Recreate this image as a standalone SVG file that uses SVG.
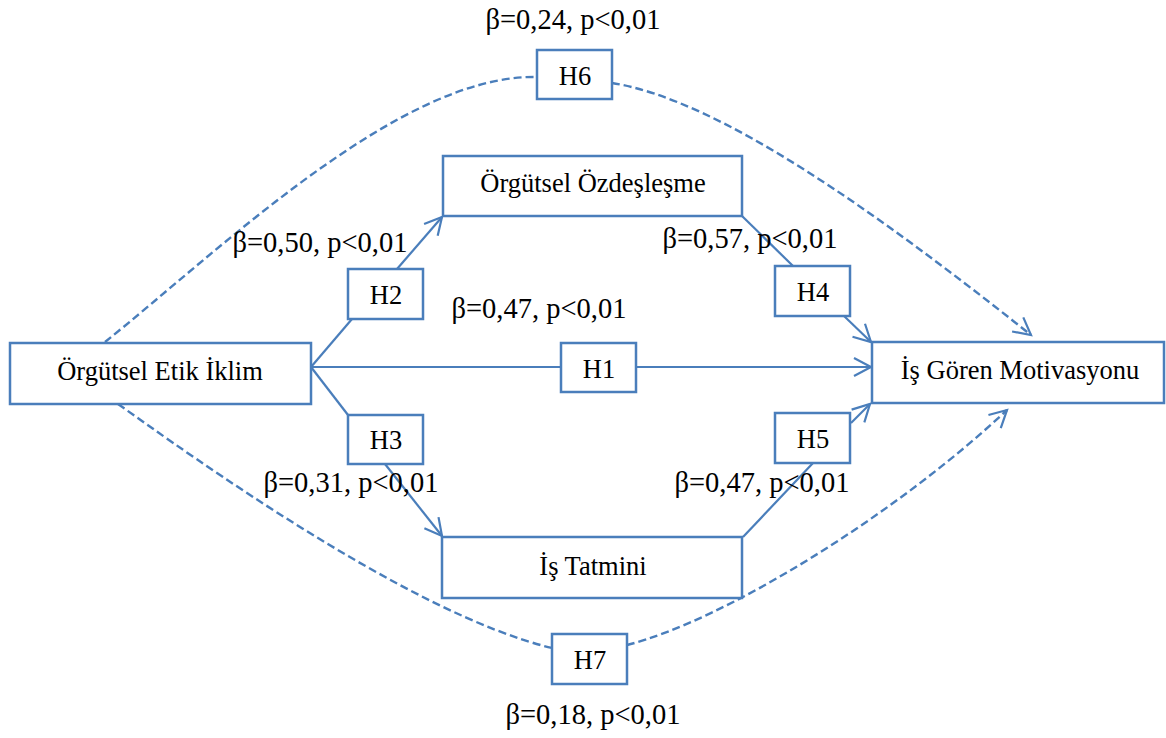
<svg xmlns="http://www.w3.org/2000/svg" width="1166" height="738" viewBox="0 0 1166 738">
<defs>
<style>
.box{fill:#fff;stroke:#4a7ebb;stroke-width:2.5}
.lbl{font-size:26.5px;fill:#000;text-anchor:middle}
.beta{font-size:28.5px;fill:#000;text-anchor:middle}
.ln{fill:none;stroke:#4a7ebb;stroke-width:2.2}
.dash{fill:none;stroke:#4a7ebb;stroke-width:2.4;stroke-dasharray:8 4}
</style>
<marker id="arr" markerUnits="userSpaceOnUse" markerWidth="24" markerHeight="26" viewBox="0 0 24 26" refX="20" refY="13" orient="auto">
<path d="M3,4 L20,13 L3,22" fill="none" stroke="#4a7ebb" stroke-width="2.2"/>
</marker>
</defs>
<rect width="1166" height="738" fill="#fff"/>
<g id="connectors">
<path class="ln" d="M311,367 L871,367" marker-end="url(#arr)"/>
<path class="ln" d="M311,367 L352,319"/>
<path class="ln" d="M397,269 L442,217" marker-end="url(#arr)"/>
<path class="ln" d="M311,367 L348,415"/>
<path class="ln" d="M385,464 L442,536" marker-end="url(#arr)"/>
<path class="ln" d="M742,216 L793,266"/>
<path class="ln" d="M844,316 L871,342" marker-end="url(#arr)"/>
<path class="ln" d="M743,537 L813,463"/>
<path class="ln" d="M851,423 L870,404" marker-end="url(#arr)"/>
<path class="dash" d="M105,342 C220,250 400,74 537,77"/>
<path class="dash" d="M612,83 C720,100 880,215 1031,335" marker-end="url(#arr)"/>
<path class="dash" d="M118,404 C190,455 410,614 552,648"/>
<path class="dash" d="M627,645 C725,620 895,515 1007,410" marker-end="url(#arr)"/>
</g>
<g font-family="'Liberation Serif', 'DejaVu Serif', serif">
<g id="n-etik"><rect class="box" x="10" y="343" width="301" height="61"/><text class="lbl" x="160" y="380">Örgütsel Etik İklim</text></g>
<g id="n-ozdes"><rect class="box" x="443" y="156" width="299" height="60"/><text class="lbl" x="593" y="192">Örgütsel Özdeşleşme</text></g>
<g id="n-tatmin"><rect class="box" x="442" y="537" width="300" height="61"/><text class="lbl" x="593" y="575">İş Tatmini</text></g>
<g id="n-motiv"><rect class="box" x="872" y="342" width="292" height="61"/><text class="lbl" x="1020" y="379">İş Gören Motivasyonu</text></g>
<g id="h1"><rect class="box" x="561" y="343" width="75" height="49"/><text class="lbl" x="599" y="378">H1</text></g>
<g id="h2"><rect class="box" x="348" y="269" width="75" height="50"/><text class="lbl" x="386" y="304">H2</text></g>
<g id="h3"><rect class="box" x="348" y="415" width="75" height="49"/><text class="lbl" x="386" y="449">H3</text></g>
<g id="h4"><rect class="box" x="775" y="266" width="75" height="50"/><text class="lbl" x="813" y="301">H4</text></g>
<g id="h5"><rect class="box" x="775" y="413" width="75" height="50"/><text class="lbl" x="813" y="448">H5</text></g>
<g id="h6"><rect class="box" x="537" y="50" width="75" height="49"/><text class="lbl" x="575" y="85">H6</text></g>
<g id="h7"><rect class="box" x="552" y="634" width="75" height="50"/><text class="lbl" x="590" y="669">H7</text></g>
<g id="labels">
<text class="beta" x="573" y="29">β=0,24, p&lt;0,01</text>
<text class="beta" x="320" y="252">β=0,50, p&lt;0,01</text>
<text class="beta" x="750" y="248">β=0,57, p&lt;0,01</text>
<text class="beta" x="539" y="318">β=0,47, p&lt;0,01</text>
<text class="beta" x="351" y="492">β=0,31, p&lt;0,01</text>
<text class="beta" x="762" y="492">β=0,47, p&lt;0,01</text>
<text class="beta" x="593" y="724">β=0,18, p&lt;0,01</text>
</g>
</g>
</svg>
